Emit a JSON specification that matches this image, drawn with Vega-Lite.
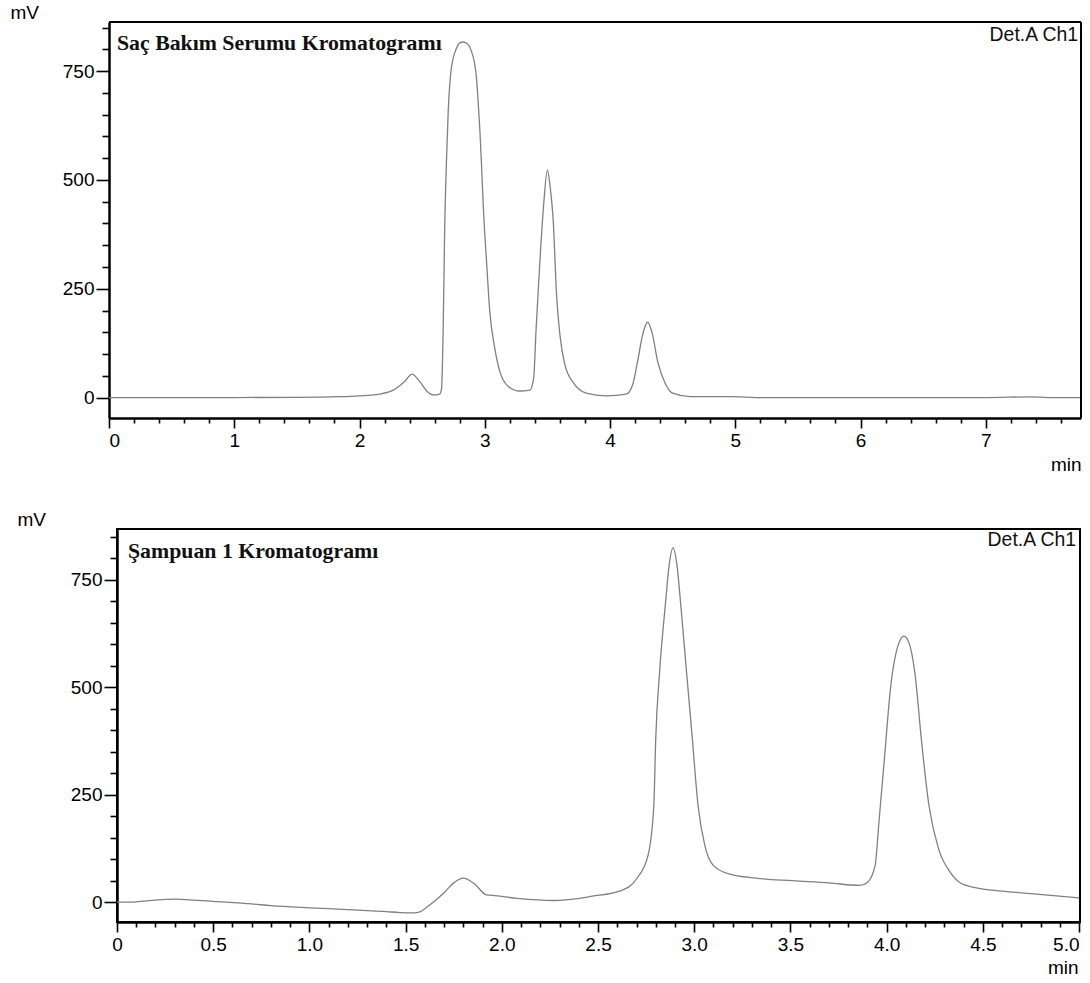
{
  "$schema": "https://vega.github.io/schema/vega-lite/v6.json",
  "padding": {"left": 10, "top": 3, "right": 5, "bottom": 5},
  "background": "white",
  "spacing": 35,
  "config": {
    "view": {"stroke": "black", "strokeWidth": 2},
    "axis": {
      "domainColor": "black", "domainWidth": 2.5, "tickColor": "black", "tickWidth": 1.6,
      "labelFont": "Liberation Sans", "labelFontSize": 19, "labelColor": "black",
      "titleFont": "Liberation Sans", "titleFontSize": 19, "titleFontWeight": "normal", "titleColor": "black",
      "grid": false, "labelOverlap": false, "tickCount": 200
    }
  },
  "datasets": {
    "top": [
      {"t": 0, "v": 0}, {"t": 0.5, "v": 0}, {"t": 1.0, "v": 0}, {"t": 1.5, "v": 0.5}, {"t": 1.84, "v": 2},
      {"t": 2.0, "v": 4}, {"t": 2.16, "v": 8}, {"t": 2.27, "v": 17}, {"t": 2.36, "v": 37}, {"t": 2.42, "v": 54},
      {"t": 2.48, "v": 37}, {"t": 2.54, "v": 14}, {"t": 2.59, "v": 6}, {"t": 2.64, "v": 8}, {"t": 2.655, "v": 21},
      {"t": 2.668, "v": 159}, {"t": 2.68, "v": 389}, {"t": 2.694, "v": 542}, {"t": 2.708, "v": 657}, {"t": 2.727, "v": 742},
      {"t": 2.748, "v": 780}, {"t": 2.775, "v": 803}, {"t": 2.80, "v": 815}, {"t": 2.828, "v": 817}, {"t": 2.868, "v": 811},
      {"t": 2.894, "v": 795}, {"t": 2.916, "v": 772}, {"t": 2.934, "v": 734}, {"t": 2.947, "v": 680}, {"t": 2.96, "v": 619},
      {"t": 2.973, "v": 542}, {"t": 2.99, "v": 428}, {"t": 3.014, "v": 313}, {"t": 3.04, "v": 198}, {"t": 3.08, "v": 113},
      {"t": 3.12, "v": 60}, {"t": 3.19, "v": 25}, {"t": 3.28, "v": 15}, {"t": 3.36, "v": 17}, {"t": 3.39, "v": 44},
      {"t": 3.41, "v": 159}, {"t": 3.44, "v": 313}, {"t": 3.47, "v": 443}, {"t": 3.50, "v": 523}, {"t": 3.52, "v": 489},
      {"t": 3.55, "v": 389}, {"t": 3.57, "v": 251}, {"t": 3.60, "v": 144}, {"t": 3.64, "v": 75}, {"t": 3.71, "v": 33},
      {"t": 3.81, "v": 10}, {"t": 3.97, "v": 4}, {"t": 4.13, "v": 8}, {"t": 4.18, "v": 29}, {"t": 4.22, "v": 83},
      {"t": 4.26, "v": 144}, {"t": 4.30, "v": 173}, {"t": 4.34, "v": 144}, {"t": 4.38, "v": 83}, {"t": 4.44, "v": 33},
      {"t": 4.50, "v": 10}, {"t": 4.64, "v": 2}, {"t": 4.96, "v": 2}, {"t": 5.2, "v": 0}, {"t": 6.0, "v": 0},
      {"t": 7.0, "v": 0}, {"t": 7.35, "v": 1.5}, {"t": 7.5, "v": 0}, {"t": 7.76, "v": 0}
    ],
    "bottom": [
      {"t": 0, "v": 0}, {"t": 0.1, "v": 1}, {"t": 0.2, "v": 5}, {"t": 0.3, "v": 7}, {"t": 0.4, "v": 5},
      {"t": 0.5, "v": 2}, {"t": 0.7, "v": -4}, {"t": 0.8, "v": -8}, {"t": 1.0, "v": -13}, {"t": 1.2, "v": -17},
      {"t": 1.4, "v": -22}, {"t": 1.47, "v": -24}, {"t": 1.53, "v": -25}, {"t": 1.57, "v": -23}, {"t": 1.62, "v": -8},
      {"t": 1.67, "v": 10}, {"t": 1.71, "v": 27}, {"t": 1.75, "v": 45}, {"t": 1.80, "v": 56}, {"t": 1.86, "v": 42},
      {"t": 1.92, "v": 17}, {"t": 1.95, "v": 16}, {"t": 2.08, "v": 9}, {"t": 2.27, "v": 4}, {"t": 2.47, "v": 14},
      {"t": 2.62, "v": 27}, {"t": 2.70, "v": 54}, {"t": 2.76, "v": 109}, {"t": 2.79, "v": 225}, {"t": 2.80, "v": 381},
      {"t": 2.82, "v": 536}, {"t": 2.85, "v": 692}, {"t": 2.87, "v": 785}, {"t": 2.89, "v": 824}, {"t": 2.91, "v": 785},
      {"t": 2.93, "v": 692}, {"t": 2.96, "v": 536}, {"t": 2.99, "v": 381}, {"t": 3.02, "v": 225}, {"t": 3.055, "v": 132},
      {"t": 3.10, "v": 85}, {"t": 3.18, "v": 66}, {"t": 3.32, "v": 56}, {"t": 3.51, "v": 50}, {"t": 3.70, "v": 45},
      {"t": 3.86, "v": 39}, {"t": 3.90, "v": 46}, {"t": 3.94, "v": 85}, {"t": 3.96, "v": 186}, {"t": 3.99, "v": 342},
      {"t": 4.02, "v": 497}, {"t": 4.06, "v": 598}, {"t": 4.09, "v": 619}, {"t": 4.12, "v": 598}, {"t": 4.15, "v": 521},
      {"t": 4.18, "v": 381}, {"t": 4.22, "v": 225}, {"t": 4.27, "v": 124}, {"t": 4.33, "v": 70}, {"t": 4.38, "v": 46},
      {"t": 4.46, "v": 34}, {"t": 4.6, "v": 26}, {"t": 4.75, "v": 20}, {"t": 5.0, "v": 10}
    ]
  },
  "vconcat": [
    {
      "width": 964,
      "height": 396,
      "view": {"stroke": null},
      "layer": [
        {
          "data": {"name": "top"},
          "mark": {"type": "line", "color": "#808080", "strokeWidth": 1.3, "interpolate": "monotone", "clip": false},
          "encoding": {
            "x": {
              "field": "t", "type": "quantitative",
              "scale": {"domain": [0, 7.76], "range": [-8, 964], "nice": false, "zero": false},
              "axis": {
                "values": [0,0.2,0.4,0.6,0.8,1,1.2,1.4,1.6,1.8,2,2.2,2.4,2.6,2.8,3,3.2,3.4,3.6,3.8,4,4.2,4.4,4.6,4.8,5,5.2,5.4,5.6,5.8,6,6.2,6.4,6.6,6.8,7,7.2,7.4,7.6],
                "tickCount": 200,
                "labelExpr": "abs(datum.value - round(datum.value)) < 0.001 ? format(datum.value, 'd') : ''",
                "tickSize": {"condition": {"test": "abs(datum.value - round(datum.value)) < 0.001", "value": 10}, "value": 5},
                "labelPadding": 3,
                "title": "min", "titleX": 964, "titleY": 46, "titleAlign": "right", "titleBaseline": "middle", "titleAnchor": null
              }
            },
            "y": {
              "field": "v", "type": "quantitative",
              "scale": {"domain": [-47, 863], "nice": false, "zero": false},
              "axis": {
                "offset": 8,
                "values": [0,50,100,150,200,250,300,350,400,450,500,550,600,650,700,750,800,850],
                "tickCount": 200,
                "labelExpr": "datum.value % 250 === 0 ? datum.label : ''",
                "tickSize": {"condition": {"test": "datum.value % 250 === 0", "value": 13}, "value": 7},
                "labelPadding": 2,
                "title": "mV", "titleAngle": 0, "titleX": -99, "titleY": -10, "titleAlign": "left", "titleBaseline": "middle"
              }
            }
          }
        },
        {
          "data": {"values": [{}]},
          "mark": {"type": "rule", "color": "black", "strokeWidth": 2},
          "encoding": {"x": {"datum": 0}, "x2": {"datum": 7.76}, "y": {"datum": 863}}
        },
        {
          "data": {"values": [{}]},
          "mark": {"type": "rule", "color": "black", "strokeWidth": 2},
          "encoding": {"x": {"datum": 7.76}, "y": {"datum": -47}, "y2": {"datum": 863}}
        },
        {
          "data": {"values": [{}]},
          "mark": {"type": "text", "font": "Liberation Serif", "fontWeight": "bold", "fontSize": 21.8, "align": "left", "baseline": "middle", "dx": 8, "dy": 21, "color": "#111111"},
          "encoding": {"x": {"datum": 0}, "y": {"datum": 863}, "text": {"value": "Saç Bakım Serumu Kromatogramı"}}
        },
        {
          "data": {"values": [{}]},
          "mark": {"type": "text", "font": "Liberation Sans", "fontSize": 19.4, "align": "right", "baseline": "middle", "dx": -3, "dy": 13, "color": "#111111"},
          "encoding": {"x": {"datum": 7.76}, "y": {"datum": 863}, "text": {"value": "Det.A Ch1"}}
        }
      ]
    },
    {
      "width": 963,
      "height": 393,
      "layer": [
        {
          "data": {"name": "bottom"},
          "mark": {"type": "line", "color": "#808080", "strokeWidth": 1.3, "interpolate": "monotone", "clip": true},
          "encoding": {
            "x": {
              "field": "t", "type": "quantitative",
              "scale": {"domain": [0, 5.005], "nice": false, "zero": false},
              "axis": {
                "values": [0,0.1,0.2,0.3,0.4,0.5,0.6,0.7,0.8,0.9,1,1.1,1.2,1.3,1.4,1.5,1.6,1.7,1.8,1.9,2,2.1,2.2,2.3,2.4,2.5,2.6,2.7,2.8,2.9,3,3.1,3.2,3.3,3.4,3.5,3.6,3.7,3.8,3.9,4,4.1,4.2,4.3,4.4,4.5,4.6,4.7,4.8,4.9,5],
                "tickCount": 200,
                "labelExpr": "abs(datum.value * 2 - round(datum.value * 2)) < 0.001 ? (datum.value == 0 ? '0' : format(datum.value, '.1f')) : ''",
                "tickSize": {"condition": {"test": "abs(datum.value * 2 - round(datum.value * 2)) < 0.001", "value": 10}, "value": 5},
                "labelAlign": {"condition": {"test": "datum.value >= 4.99", "value": "right"}, "value": "center"},
                "labelPadding": 3,
                "title": "min", "titleX": 961, "titleY": 45, "titleAlign": "right", "titleBaseline": "middle", "titleAnchor": null
              }
            },
            "y": {
              "field": "v", "type": "quantitative",
              "scale": {"domain": [-46, 868], "nice": false, "zero": false},
              "axis": {
                "values": [0,50,100,150,200,250,300,350,400,450,500,550,600,650,700,750,800,850],
                "tickCount": 200,
                "labelExpr": "datum.value % 250 === 0 ? datum.label : ''",
                "tickSize": {"condition": {"test": "datum.value % 250 === 0", "value": 13}, "value": 7},
                "labelPadding": 2,
                "title": "mV", "titleAngle": 0, "titleX": -100, "titleY": -10, "titleAlign": "left", "titleBaseline": "middle"
              }
            }
          }
        },
        {
          "data": {"values": [{}]},
          "mark": {"type": "text", "font": "Liberation Serif", "fontWeight": "bold", "fontSize": 21.8, "align": "left", "baseline": "middle", "dx": 11, "dy": 22, "color": "#111111"},
          "encoding": {"x": {"datum": 0}, "y": {"datum": 868}, "text": {"value": "Şampuan 1 Kromatogramı"}}
        },
        {
          "data": {"values": [{}]},
          "mark": {"type": "text", "font": "Liberation Sans", "fontSize": 19.4, "align": "right", "baseline": "middle", "dx": -4, "dy": 11, "color": "#111111"},
          "encoding": {"x": {"datum": 5.005}, "y": {"datum": 868}, "text": {"value": "Det.A Ch1"}}
        }
      ]
    }
  ]
}
